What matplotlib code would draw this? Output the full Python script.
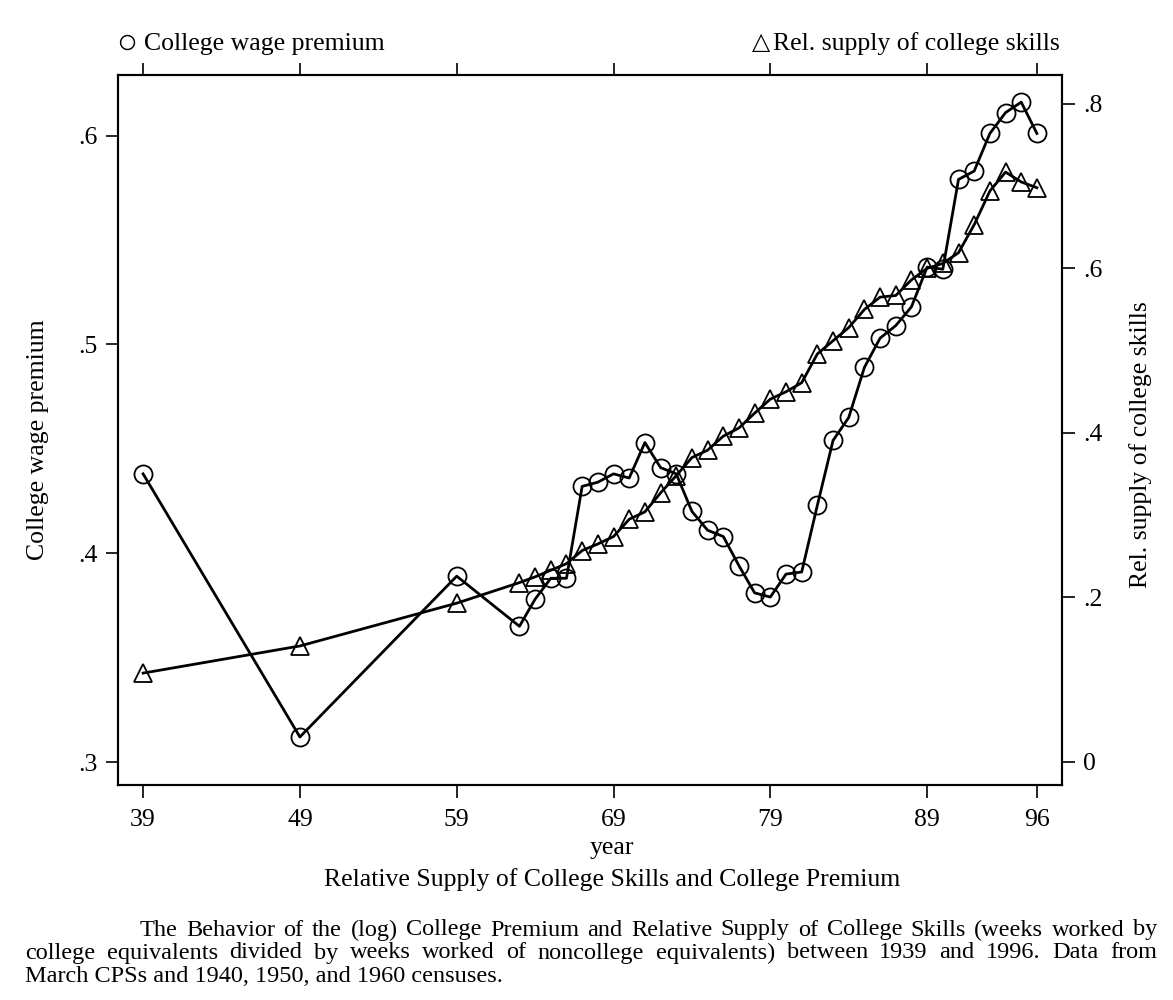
import matplotlib
matplotlib.use("Agg")
import matplotlib.pyplot as plt
import numpy as np

# ------------------------------------------------------------
# data: census years + March CPS years
# ------------------------------------------------------------

years = [39, 49, 59, 63, 64, 65, 66, 67, 68, 69, 70, 71, 72, 73, 74, 75, 76, 77,
         78, 79, 80, 81, 82, 83, 84, 85, 86, 87, 88, 89, 90, 91, 92, 93, 94, 95, 96]

# (log) college wage premium, left axis
premium = [0.438, 0.312, 0.389, 0.365, 0.378, 0.388, 0.388, 0.432, 0.434, 0.438,
           0.436, 0.453, 0.441, 0.438, 0.420, 0.411, 0.408, 0.394, 0.381, 0.379,
           0.390, 0.391, 0.423, 0.454, 0.465, 0.489, 0.503, 0.509, 0.518, 0.537,
           0.536, 0.579, 0.583, 0.601, 0.611, 0.616, 0.601]

# relative supply of college skills, right axis
supply = [0.108, 0.141, 0.193, 0.218, 0.225, 0.233, 0.241, 0.257, 0.265, 0.274,
          0.295, 0.304, 0.327, 0.348, 0.370, 0.379, 0.396, 0.406, 0.424, 0.441,
          0.450, 0.461, 0.496, 0.512, 0.528, 0.550, 0.565, 0.567, 0.586, 0.600,
          0.606, 0.619, 0.653, 0.694, 0.717, 0.705, 0.698]

xticks = [39, 49, 59, 69, 79, 89, 96]
left_ticks = [0.3, 0.4, 0.5, 0.6]
left_labels = [".3", ".4", ".5", ".6"]
right_ticks = [0, 0.2, 0.4, 0.6, 0.8]
right_labels = ["0", ".2", ".4", ".6", ".8"]

caption = [
    "The Behavior of the (log) College Premium and Relative Supply of College Skills (weeks worked by",
    "college equivalents divided by weeks worked of noncollege equivalents) between 1939 and 1996. Data from",
    "March CPSs and 1940, 1950, and 1960 censuses.",
]

FONT = ["Liberation Serif", "DejaVu Serif"]
plt.rcParams["font.family"] = FONT
plt.rcParams["font.size"] = 18.5

W, H = 1173, 1000
fig = plt.figure(figsize=(W / 100, H / 100), dpi=100)
ax = fig.add_axes([118 / W, 1 - 785 / H, (1062 - 118) / W, (785 - 75) / H])
ax2 = ax.twinx()

line_kw = dict(color="black", linewidth=2.0, markerfacecolor="none",
               markeredgecolor="black", markeredgewidth=1.3)

ax.plot(years, premium, marker="o", markersize=13, **line_kw)
ax2.plot(years, supply, marker="^", markersize=13, **line_kw)

ax.set_xlim(37.4, 97.6)
ax.set_ylim(0.289, 0.629)
ax2.set_ylim(-0.028, 0.835)

ax.set_xticks(xticks)
ax.set_xticklabels([str(x) for x in xticks])
ax.set_yticks(left_ticks)
ax.set_yticklabels(left_labels)
ax2.set_yticks(right_ticks)
ax2.set_yticklabels(right_labels)

ax.tick_params(axis="x", which="both", top=True, labeltop=False,
               direction="out", length=9, width=1.2, pad=8)
ax.tick_params(axis="y", direction="out", length=9, width=1.2, pad=6)
ax2.tick_params(axis="y", direction="out", length=9, width=1.2, pad=6)

for a in (ax, ax2):
    for s in a.spines.values():
        s.set_linewidth(1.5)

# y titles placed in figure pixels
fig.text(38 / W, 1 - 440 / H, "College wage premium", rotation=90, ha="center", va="center")
fig.text(1141 / W, 1 - 445 / H, "Rel. supply of college skills", rotation=90, ha="center", va="center")

# x-axis title and chart title below the plot
fig.text(612 / W, 1 - 848 / H, "year", ha="center", va="center")
fig.text(612 / W, 1 - 880 / H, "Relative Supply of College Skills and College Premium",
         ha="center", va="center")

# key above the plot
fig.text(116 / W, 1 - 44 / H, "\u25cb", ha="left", va="center", fontsize=25)
fig.text(144 / W, 1 - 44 / H, "College wage premium", ha="left", va="center")
fig.text(752 / W, 1 - 44 / H, "\u25b3", ha="left", va="center", fontsize=17)
fig.text(1060 / W, 1 - 44 / H, "Rel. supply of college skills", ha="right", va="center")


def justify(words_line, x0, x1, y, size):
    # lay out one caption line word by word, stretching the gaps to fill x0..x1
    words = words_line.split(" ")
    r = fig.canvas.get_renderer()
    items = [fig.text(0, 1 - y / H, w, ha="left", va="center", fontsize=size) for w in words]
    widths = [t.get_window_extent(r).width for t in items]
    gap = (x1 - x0 - sum(widths)) / (len(words) - 1)
    x = x0
    for t, w in zip(items, widths):
        t.set_x(x / W)
        x += w + gap


CAP_SIZE = 17.5
justify(caption[0], 140, 1157, 930, CAP_SIZE)
justify(caption[1], 25, 1157, 953, CAP_SIZE)
fig.text(25 / W, 1 - 976 / H, caption[2], ha="left", va="center", fontsize=CAP_SIZE)

fig.savefig("out.png", dpi=100, facecolor="white")
